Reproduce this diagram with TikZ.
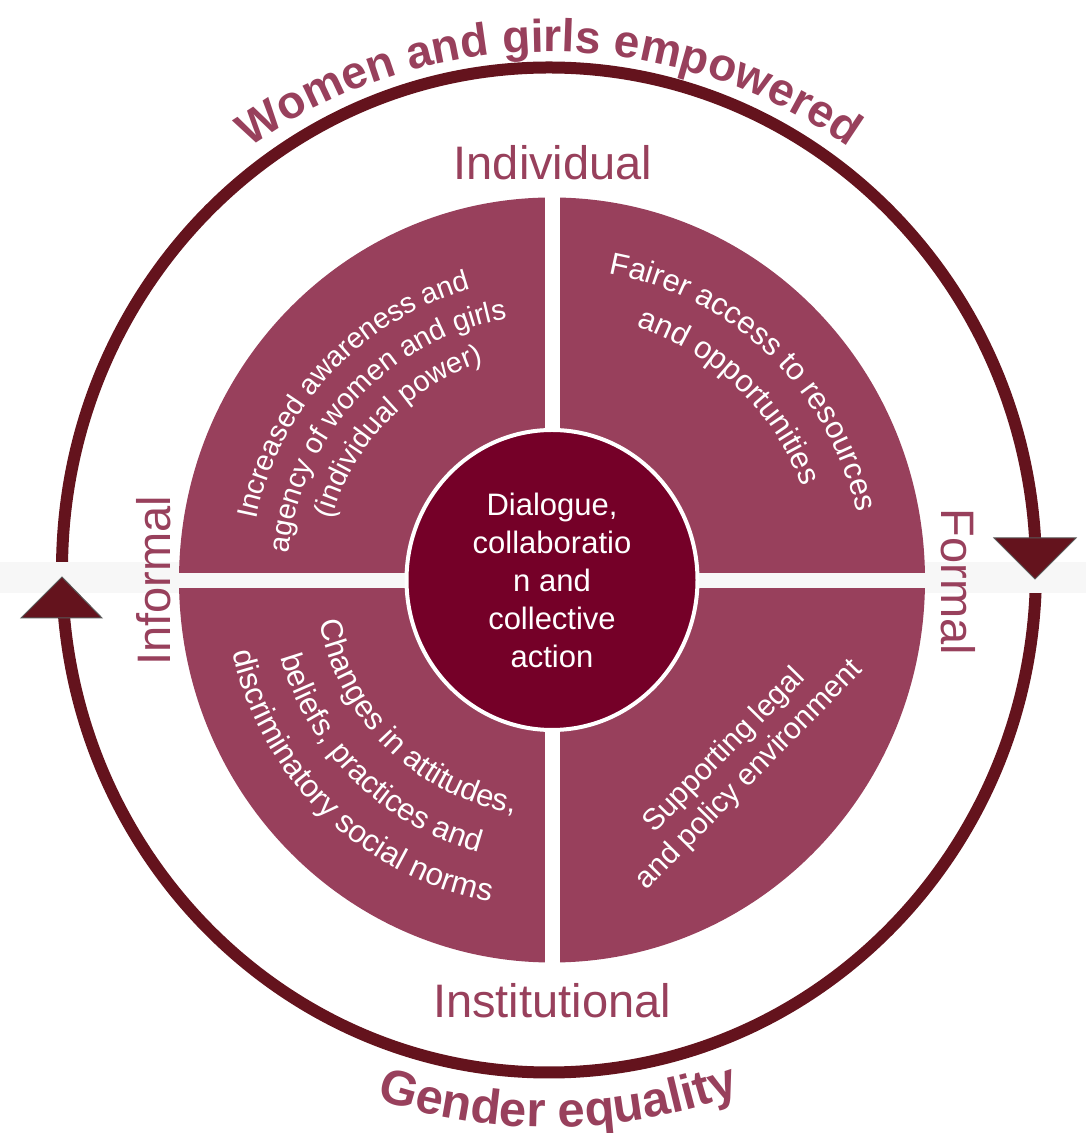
\documentclass[tikz,border=0pt]{standalone}
\usepackage{fontspec}
\setmainfont{Liberation Sans}
\usetikzlibrary{decorations.text}
\definecolor{ringc}{HTML}{64131D}
\definecolor{quadc}{HTML}{98405C}
\definecolor{corec}{HTML}{750028}
\definecolor{bandc}{HTML}{F7F7F7}
\begin{document}
\begin{tikzpicture}[x=1pt,y=1pt,
  lbl/.style={text=quadc, font=\fontsize{47}{47}\selectfont, inner sep=0pt},
  tri/.style={fill=ringc, draw=gray!70!black, line width=1pt}]
\useasboundingbox (0,0) rectangle (1086,1133);
\fill[white] (0,0) rectangle (1086,1133);
\coordinate (rc) at (549,563);
\coordinate (qc) at (552,553);
% outer ring
\draw[ringc, line width=12pt] (rc) ellipse [x radius=487pt, y radius=502.5pt];
% grey band
\fill[bandc] (0,540) rectangle (1086,571);
% quadrants
\fill[quadc] (qc) ellipse [x radius=373pt, y radius=382.5pt];
\fill[white] (545,160) rectangle (560,946);
\fill[bandc] (170,545) rectangle (935,560);
% core
\draw[white, line width=4pt, fill=corec] (qc) ellipse [x radius=145.5pt, y radius=150pt];
\node[text=white, align=center, font=\fontsize{31}{38}\selectfont, inner sep=0pt] (core) at (552,553)
  {Dialogue,\\collaboratio\\n and\\collective\\action};
% arrow heads
\filldraw[tri] (21,515) -- (102,515) -- (62,556) -- cycle;
\filldraw[tri] (994,595) -- (1076,595) -- (1035,554) -- cycle;
% side labels
\node[lbl, anchor=base] (indiv) at (553,953) {Individual};
\node[lbl, anchor=base] (inst) at (552,115) {Institutional};
\node[lbl, anchor=base, rotate=90] (infor) at (170,552) {Informal};
\node[lbl, anchor=base, rotate=-90] (forml) at (941,551) {Formal};
% outer arc texts
\path[decorate, decoration={text along path, text align=center,
  text={|\color{quadc}\bfseries\fontsize{46}{46}\selectfont|Women and girls empowered}}]
  ([shift={(165:518pt)}]rc) arc[start angle=165, end angle=15, radius=518pt];
\path[decorate, decoration={text along path, text align=center,
  text={|\color{quadc}\bfseries\fontsize{49}{49}\selectfont|Gender equality}}]
  ([shift={(201:557pt)}]rc) arc[start angle=201, end angle=341, radius=557pt];
% top-left quadrant text
\path[decorate, decoration={text along path, text align=center,
  text={|\color{white}\fontsize{29}{29}\selectfont|Increased awareness and}}]
  ([shift={(212:302pt)}]qc) arc[start angle=212, end angle=62, radius=302pt];
\path[decorate, decoration={text along path, text align=center,
  text={|\color{white}\fontsize{29}{29}\selectfont|agency of women and girls}}]
  ([shift={(212:265pt)}]qc) arc[start angle=212, end angle=62, radius=265pt];
\path[decorate, decoration={text along path, text align=center,
  text={|\color{white}\fontsize{29}{29}\selectfont|(individual power)}}]
  ([shift={(211:228pt)}]qc) arc[start angle=211, end angle=61, radius=228pt];
% top-right quadrant text
\path[decorate, decoration={text along path, text align=center,
  text={|\color{white}\fontsize{31}{31}\selectfont|Fairer access to resources}}]
  ([shift={(121:312pt)}]qc) arc[start angle=121, end angle=-29, radius=312pt];
\path[decorate, decoration={text along path, text align=center,
  text={|\color{white}\fontsize{31}{31}\selectfont|and opportunities}}]
  ([shift={(121:267pt)}]qc) arc[start angle=121, end angle=-29, radius=267pt];
% bottom-left quadrant text
\path[decorate, decoration={text along path, text align=center,
  text={|\color{white}\fontsize{31}{31}\selectfont|Changes in attitudes,}}]
  ([shift={(150:236pt)}]qc) arc[start angle=150, end angle=301, radius=236pt];
\path[decorate, decoration={text along path, text align=center,
  text={|\color{white}\fontsize{31}{31}\selectfont|beliefs, practices and}}]
  ([shift={(150:282pt)}]qc) arc[start angle=150, end angle=301, radius=282pt];
\path[decorate, decoration={text along path, text align=center,
  text={|\color{white}\fontsize{31.5}{31.5}\selectfont|discriminatory social norms}}]
  ([shift={(150.5:328pt)}]qc) arc[start angle=150.5, end angle=301.5, radius=328pt];
% bottom-right quadrant text
\node[text=white, align=center, rotate=45.5, font=\fontsize{30}{35}\selectfont, inner sep=0pt] (brtext) at (737,370)
  {Supporting legal\\and policy environment};
\end{tikzpicture}
\end{document}
